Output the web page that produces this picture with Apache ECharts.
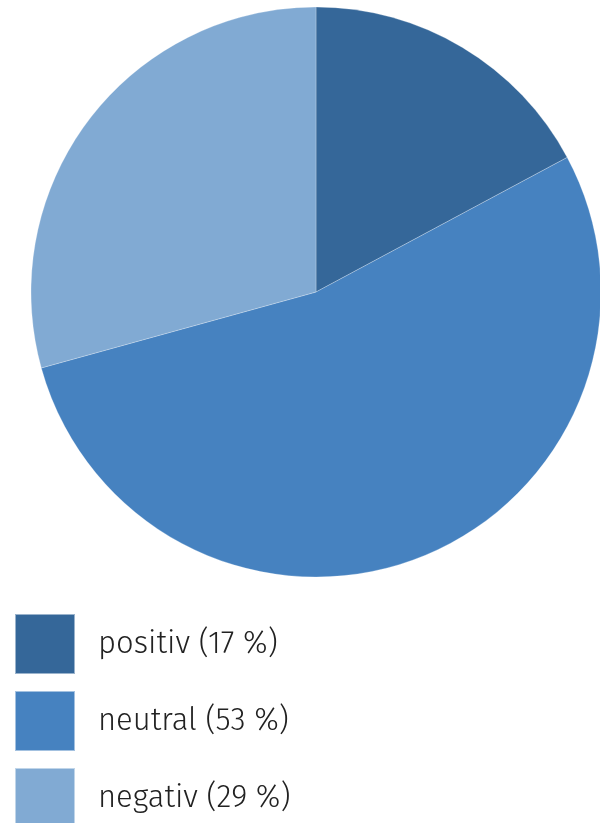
<!DOCTYPE html>
<html>
<head>
<meta charset="utf-8">
<script src="https://cdn.jsdelivr.net/npm/echarts@6/dist/echarts.min.js"></script>
<style>html,body{margin:0;padding:0;background:#fff;}#c{width:600px;height:823px;}</style>
</head>
<body>
<div id="c"></div>
<script>
const categories = ['positiv (17 %)', 'neutral (53 %)', 'negativ (29 %)'];
const values = [17, 53, 29];
const colors = ['#356799', '#4682C0', '#81AAD3'];

const chart = echarts.init(document.getElementById('c'), null, {renderer: 'canvas'});
chart.setOption({
  animation: false,
  backgroundColor: '#ffffff',
  legend: {
    orient: 'vertical',
    left: 14,
    top: 613,
    height: 300,
    padding: 0,
    itemWidth: 60,
    itemHeight: 60,
    itemGap: 15,
    icon: 'rect',
    selectedMode: false,
    data: categories,
    textStyle: {
      fontFamily: '"Fira Sans", "Open Sans", sans-serif',
      fontWeight: 300,
      fontSize: 31,
      lineHeight: 40,
      color: '#222222',
      padding: [6, 0, 0, 18]
    }
  },
  series: [{
    type: 'pie',
    center: [316, 292],
    radius: [0, 285],
    startAngle: 90,
    clockwise: true,
    label: {show: false},
    labelLine: {show: false},
    emphasis: {disabled: true},
    itemStyle: {borderColor: 'rgba(255,255,255,0.5)', borderWidth: 0.5},
    data: categories.map((n, i) => ({name: n, value: values[i], itemStyle: {color: colors[i]}}))
  }]
});
</script>
</body>
</html>
